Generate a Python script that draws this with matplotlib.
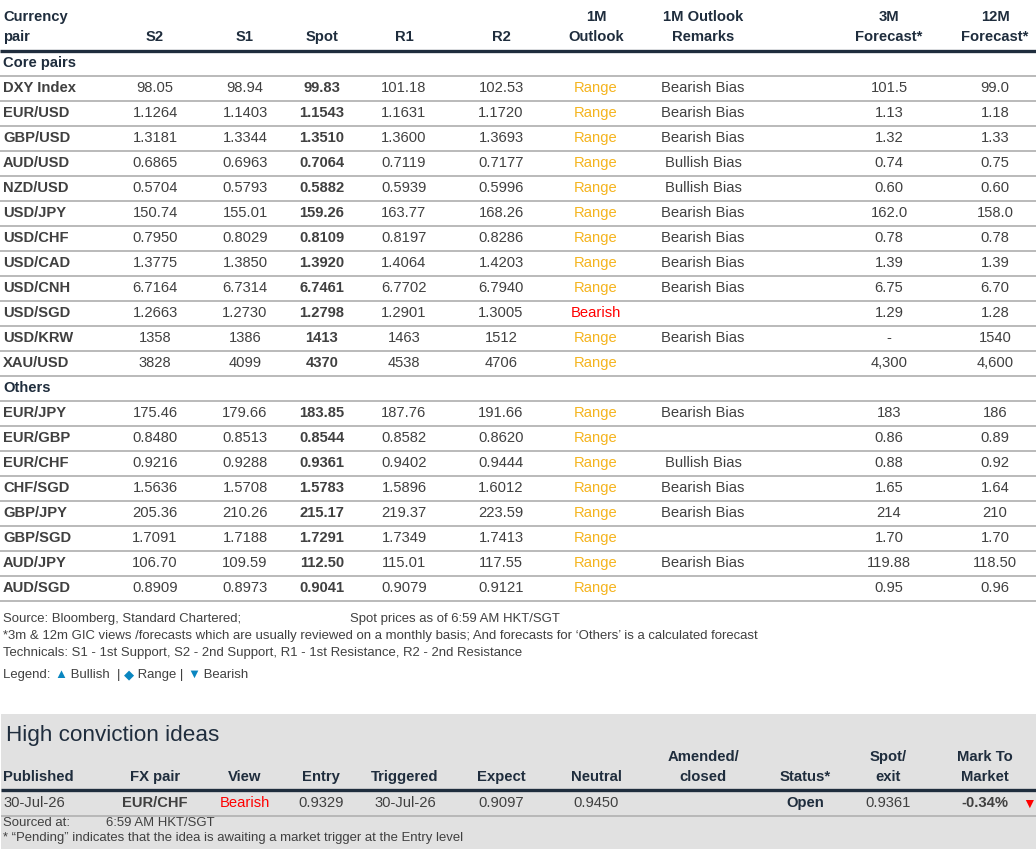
import matplotlib
matplotlib.use("Agg")
import matplotlib.pyplot as plt
from matplotlib.lines import Line2D
from matplotlib.patches import Rectangle

W, H = 1036, 849
FONT = ['Liberation Sans', 'DejaVu Sans']

# ---------------- data ----------------
core_pairs = ["DXY Index", "EUR/USD", "GBP/USD", "AUD/USD", "NZD/USD", "USD/JPY",
              "USD/CHF", "USD/CAD", "USD/CNH", "USD/SGD", "USD/KRW", "XAU/USD"]
core_s2 = ["98.05", "1.1264", "1.3181", "0.6865", "0.5704", "150.74", "0.7950", "1.3775", "6.7164", "1.2663", "1358", "3828"]
core_s1 = ["98.94", "1.1403", "1.3344", "0.6963", "0.5793", "155.01", "0.8029", "1.3850", "6.7314", "1.2730", "1386", "4099"]
core_spot = ["99.83", "1.1543", "1.3510", "0.7064", "0.5882", "159.26", "0.8109", "1.3920", "6.7461", "1.2798", "1413", "4370"]
core_r1 = ["101.18", "1.1631", "1.3600", "0.7119", "0.5939", "163.77", "0.8197", "1.4064", "6.7702", "1.2901", "1463", "4538"]
core_r2 = ["102.53", "1.1720", "1.3693", "0.7177", "0.5996", "168.26", "0.8286", "1.4203", "6.7940", "1.3005", "1512", "4706"]
core_outlook = ["Range"] * 9 + ["Bearish", "Range", "Range"]
core_remarks = ["Bearish Bias", "Bearish Bias", "Bearish Bias", "Bullish Bias", "Bullish Bias", "Bearish Bias",
                "Bearish Bias", "Bearish Bias", "Bearish Bias", "", "Bearish Bias", ""]
core_f3m = ["101.5", "1.13", "1.32", "0.74", "0.60", "162.0", "0.78", "1.39", "6.75", "1.29", "-", "4,300"]
core_f12m = ["99.0", "1.18", "1.33", "0.75", "0.60", "158.0", "0.78", "1.39", "6.70", "1.28", "1540", "4,600"]

other_pairs = ["EUR/JPY", "EUR/GBP", "EUR/CHF", "CHF/SGD", "GBP/JPY", "GBP/SGD", "AUD/JPY", "AUD/SGD"]
other_s2 = ["175.46", "0.8480", "0.9216", "1.5636", "205.36", "1.7091", "106.70", "0.8909"]
other_s1 = ["179.66", "0.8513", "0.9288", "1.5708", "210.26", "1.7188", "109.59", "0.8973"]
other_spot = ["183.85", "0.8544", "0.9361", "1.5783", "215.17", "1.7291", "112.50", "0.9041"]
other_r1 = ["187.76", "0.8582", "0.9402", "1.5896", "219.37", "1.7349", "115.01", "0.9079"]
other_r2 = ["191.66", "0.8620", "0.9444", "1.6012", "223.59", "1.7413", "117.55", "0.9121"]
other_outlook = ["Range"] * 8
other_remarks = ["Bearish Bias", "", "Bullish Bias", "Bearish Bias", "Bearish Bias", "", "Bearish Bias", ""]
other_f3m = ["183", "0.86", "0.88", "1.65", "214", "1.70", "119.88", "0.95"]
other_f12m = ["186", "0.89", "0.92", "1.64", "210", "1.70", "118.50", "0.96"]

header_top = ["Currency", "", "", "", "", "", "1M", "1M Outlook", "3M", "12M"]
header_bot = ["pair", "S2", "S1", "Spot", "R1", "R2", "Outlook", "Remarks", "Forecast*", "Forecast*"]

hc_headers_top = ["", "", "", "", "", "", "", "Amended/", "", "Spot/", "Mark To"]
hc_headers_bot = ["Published", "FX pair", "View", "Entry", "Triggered", "Expect", "Neutral", "closed", "Status*", "exit", "Market"]
hc_row = ["30-Jul-26", "EUR/CHF", "Bearish", "0.9329", "30-Jul-26", "0.9097", "0.9450", "", "Open", "0.9361", "-0.34%"]

footnotes = [
    "*3m & 12m GIC views /forecasts which are usually reviewed on a monthly basis; And forecasts for \u2018Others\u2019 is a calculated forecast",
    "Technicals: S1 - 1st Support, S2 - 2nd Support, R1 - 1st Resistance, R2 - 2nd Resistance",
]

# ---------------- styling ----------------
NAVY = "#1f2d3d"
GREY_TXT = "#404040"
ORANGE = "#f5b41e"
RED = "#ff0000"
LINE_GREY = "#b4b4b4"
BLUE = "#0a86c0"

fig = plt.figure(figsize=(W / 100, H / 100), dpi=100)
fig.patch.set_facecolor("white")


def T(x, y, s, ha="center", size=10.6, weight="normal", color=GREY_TXT, **kw):
    fig.text(x / W, 1 - y / H, s, ha=ha, va="center", fontsize=size, fontweight=weight,
             color=color, family=FONT, **kw)


def HL(y, x0=0, x1=W, color=LINE_GREY, lw=1.3):
    fig.add_artist(Line2D([x0 / W, x1 / W], [1 - y / H, 1 - y / H], color=color, lw=lw,
                          transform=fig.transFigure, solid_capstyle="butt"))


col_x = [3, 155, 245, 322, 404, 501, 596, 703, 889, 995]

# header
for i, (t, b) in enumerate(zip(header_top, header_bot)):
    ha = "left" if i == 0 else "center"
    if t:
        T(col_x[i], 17, t, ha=ha, weight="bold", color=NAVY)
    T(col_x[i], 37, b, ha=ha, weight="bold", color=NAVY)
HL(50.5, color=NAVY, lw=2.4)

ROW = 25.0


def section(title, y0, pairs, s2, s1, spot, r1, r2, outlook, remarks, f3m, f12m):
    T(3, y0, title, ha="left", weight="bold", color=NAVY)
    HL(y0 + 12.5)
    for k, p in enumerate(pairs):
        y = y0 + ROW * (k + 1)
        T(col_x[0], y, p, ha="left", weight="bold")
        T(col_x[1], y, s2[k])
        T(col_x[2], y, s1[k])
        T(col_x[3], y, spot[k], weight="bold")
        T(col_x[4], y, r1[k])
        T(col_x[5], y, r2[k])
        oc = RED if outlook[k] == "Bearish" else ORANGE
        T(col_x[6], y, outlook[k], color=oc)
        if remarks[k]:
            T(col_x[7], y, remarks[k])
        T(col_x[8], y, f3m[k])
        T(col_x[9], y, f12m[k])
        HL(y + 12.5)
    return y0 + ROW * (len(pairs) + 1)


ny = section("Core pairs", 63, core_pairs, core_s2, core_s1, core_spot, core_r1, core_r2,
             core_outlook, core_remarks, core_f3m, core_f12m)
section("Others", ny, other_pairs, other_s2, other_s1, other_spot, other_r1, other_r2,
        other_outlook, other_remarks, other_f3m, other_f12m)

# footer
FS = 9.45
T(3, 619, "Source: Bloomberg, Standard Chartered;", ha="left", size=FS)
T(350, 619, "Spot prices as of 6:59 AM HKT/SGT", ha="left", size=FS)
T(3, 636, footnotes[0], ha="left", size=FS)
T(3, 653, footnotes[1], ha="left", size=FS)
# legend line
lx = 3
parts = [("Legend: ", GREY_TXT), ("\u25b2", BLUE), (" Bullish  | ", GREY_TXT), ("\u25c6", BLUE),
         (" Range | ", GREY_TXT), ("\u25bc", BLUE), (" Bearish", GREY_TXT)]
renderer = fig.canvas.get_renderer()
for s, c in parts:
    txt = fig.text(lx / W, 1 - 675 / H, s, ha="left", va="center", fontsize=FS, color=c, family=FONT)
    bb = txt.get_window_extent(renderer=renderer)
    lx += bb.width

# High conviction box
fig.add_artist(Rectangle((1 / W, 0), (W - 1) / W, (H - 714) / H, transform=fig.transFigure,
                         facecolor="#e1e1e1", edgecolor="none", zorder=0))
T(6, 735, "High conviction ideas", ha="left", size=16.2, color=NAVY)

hc_x = [3, 155, 245, 321, 405, 501, 596, 703, 805, 888, 985]
for i, (t, b) in enumerate(zip(hc_headers_top, hc_headers_bot)):
    ha = "left" if i == 0 else "center"
    if t:
        T(hc_x[i], 757, t, ha=ha, weight="bold", color=NAVY, size=10.7)
    T(hc_x[i], 777, b, ha=ha, weight="bold", color=NAVY, size=10.7)
HL(790, x0=1, color=NAVY, lw=2.4)

for i, v in enumerate(hc_row):
    if not v:
        continue
    ha = "left" if i == 0 else "center"
    weight = "bold" if i in (1, 8, 10) else "normal"
    color = GREY_TXT
    if i == 2:
        color = RED
    if i == 8:
        color = NAVY
    T(hc_x[i], 803, v, ha=ha, weight=weight, color=color, size=10.6)
T(1029, 804, "\u25bc", color=RED, size=10)
HL(815.5, x0=1, color=LINE_GREY, lw=1.3)
T(3, 823, "Sourced at:", ha="left", size=FS)
T(106, 823, "6:59 AM HKT/SGT", ha="left", size=FS)
T(3, 838, "* \u201cPending\u201d indicates that the idea is awaiting a market trigger at the Entry level", ha="left", size=FS)

fig.savefig("out.png", dpi=100)
